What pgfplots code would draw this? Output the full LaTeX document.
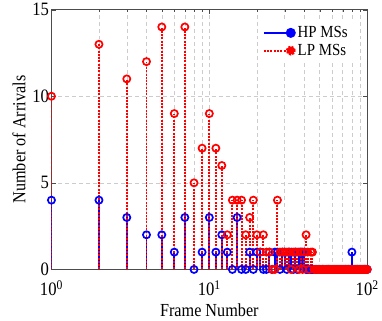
\documentclass[border=0pt]{standalone}
\usepackage{pgfplots}
\usepackage{pgfplotstable}
\pgfplotsset{compat=1.18}
\usepackage{fontspec}
\setmainfont{Liberation Serif}[FakeStretch=0.88]

% frame, HP arrivals, LP arrivals
\pgfplotstableread{
x hp lp
1 4 10
2 4 13
3 3 11
4 2 12
5 2 14
6 1 9
7 3 14
8 0 5
9 1 7
10 3 9
11 1 7
12 2 6
13 1 2
14 0 4
15 3 4
16 0 4
17 0 2
18 1 3
19 0 4
20 1 2
21 1 1
22 0 2
23 0 1
24 1 1
25 0 0
26 1 0
27 1 4
28 0 1
29 1 1
30 1 1
31 0 1
32 1 1
33 1 0
34 0 1
35 1 1
36 0 1
37 1 0
38 1 1
39 1 0
40 1 1
41 0 2
42 0 1
43 0 0
44 0 1
45 0 1
46 0 0
47 0 0
48 0 0
49 0 0
50 0 0
51 0 0
52 0 0
53 0 0
54 0 0
55 0 0
56 0 0
57 0 0
58 0 0
59 0 0
60 0 0
61 0 0
62 0 0
63 0 0
64 0 0
65 0 0
66 0 0
67 0 0
68 0 0
69 0 0
70 0 0
71 0 0
72 0 0
73 0 0
74 0 0
75 0 0
76 0 0
77 0 0
78 0 0
79 0 0
80 1 0
81 0 0
82 0 0
83 0 0
84 0 0
85 0 0
86 0 0
87 0 0
88 0 0
89 0 0
90 0 0
91 0 0
92 0 0
93 0 0
94 0 0
95 0 0
96 0 0
97 0 0
98 0 0
99 0 0
100 0 0
}\arrivals

\definecolor{mblue}{rgb}{0,0,1}
\definecolor{mred}{rgb}{1,0,0}

\begin{document}
\begin{tikzpicture}
\begin{axis}[
    scale only axis,
    width=316bp, height=260bp,
    xmode=log,
    xmin=1, xmax=100,
    ymin=0, ymax=15,
    xtick={1,10,100},
    xticklabels={10\textsuperscript{0},10\textsuperscript{1},10\textsuperscript{2}},
    ytick={0,5,10,15},
    yticklabels={0,5,10,15},
    tick align=inside,
    xmajorgrids, xminorgrids, ymajorgrids,
    major grid style={dash pattern=on 4pt off 3pt, gray!40, line width=0.5pt},
    minor grid style={dash pattern=on 4pt off 3pt, gray!40, line width=0.5pt},
    axis line style={gray!60!black},
    tick style={gray!60!black},
    tick label style={font=\fontsize{19}{21}\selectfont},
    label style={font=\fontsize{18.5}{20}\selectfont},
    xticklabel style={yshift=-8pt},
    yticklabel style={xshift=1pt},
    xlabel={Frame Number},
    ylabel={Number of Arrivals},
    xlabel style={yshift=-1pt},
    ylabel style={yshift=0pt},
    legend style={at={(0.955,0.955)}, anchor=north east, draw=none, fill=white,
        font=\fontsize{17}{19}\selectfont, row sep=1pt, inner sep=3pt},
    legend cell align=left,
]
\addplot[ycomb, mblue, solid, line width=2pt, mark=o, mark size=3.6pt,
    mark options={solid, line width=1.7pt},
    legend image code/.code={
        \draw[mblue, line width=2pt] (0cm,0cm) -- (0.95cm,0cm);
        \fill[mblue] (0.95cm,0cm) circle (4pt);}]
    table[x=x, y=hp] {\arrivals};
\addplot[ycomb, mred, line width=2pt, dash pattern=on 2pt off 1.3pt,
    mark=o, mark size=3.6pt, mark options={solid, line width=1.7pt},
    legend image code/.code={
        \draw[mred, line width=2pt, dash pattern=on 2pt off 1.3pt] (0cm,0cm) -- (0.95cm,0cm);
        \fill[mred] (0.95cm,0cm) circle (4pt);}]
    table[x=x, y=lp] {\arrivals};
\legend{HP MSs, LP MSs}
\end{axis}
% white margin to the left of the y label, as in the reference
\path ([xshift=-9bp]current bounding box.west) -- (current bounding box.east);
\end{tikzpicture}
\end{document}
